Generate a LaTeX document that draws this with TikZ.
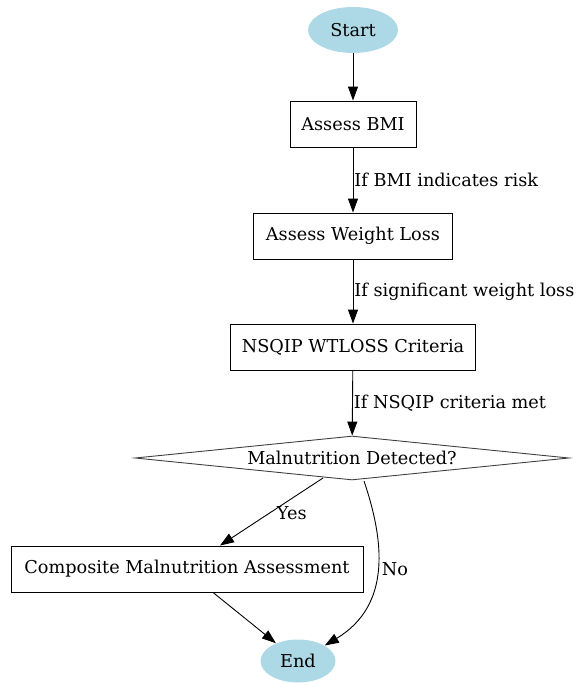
\documentclass[tikz,border=0pt]{standalone}
\usepackage{fontspec}
\setmainfont{DejaVu Serif}
\usetikzlibrary{shapes.geometric,arrows.meta}
\definecolor{lblue}{HTML}{ADD8E6}
\begin{document}
\begin{tikzpicture}[x=1pt,y=-1pt,font=\fontsize{17.7}{21}\selectfont,line width=0.9pt]%
  \tikzstyle{term}=[ellipse,fill=lblue,inner sep=0,minimum width=90,minimum height=46]
  \tikzstyle{boxn}=[rectangle,draw,inner sep=0,minimum height=46]
  \tikzstyle{decn}=[diamond,draw=black!75,aspect=9.7,inner sep=0,minimum width=434,minimum height=44]
  \tikzstyle{arr}=[-{Triangle[length=14pt,width=10pt]}]
  \useasboundingbox (0,0) rectangle (576,683);
  \node(start)[term] at (353,30){Start};
  \node(bmi)[boxn,minimum width=126] at (353,124){Assess BMI};
  \node(wl)[boxn,minimum width=199] at (353,236){Assess Weight Loss};
  \node(nsqip)[boxn,minimum width=245] at (353,347){NSQIP WTLOSS Criteria};
  \node(dec)[decn] at (352,458){Malnutrition Detected?};
  \node(comp)[boxn,minimum width=352] at (187,569){Composite Malnutrition Assessment};
  \node(end)[term,minimum width=75,minimum height=43] at (298,661){End};
  \draw[arr] (start) -- (bmi);
  \draw[arr] (bmi) -- node[right,inner sep=1]{If BMI indicates risk} (wl);
  \draw[arr] (wl) -- node[right,inner sep=1]{If significant weight loss} (nsqip);
  \draw[arr] (nsqip) -- node[right,inner sep=1]{If NSQIP criteria met} (dec);
  \draw[arr] (323,478) -- node[right,pos=0.52,inner sep=7]{Yes} (comp.north east -| 220,0);
  \draw[arr] (comp.south -| 213,0) -- (end);
  \draw[arr] (364,481) .. controls (384,540) and (392,605) .. (end.north east);
  \node(no) at (395,569){No};
\end{tikzpicture}
\end{document}
